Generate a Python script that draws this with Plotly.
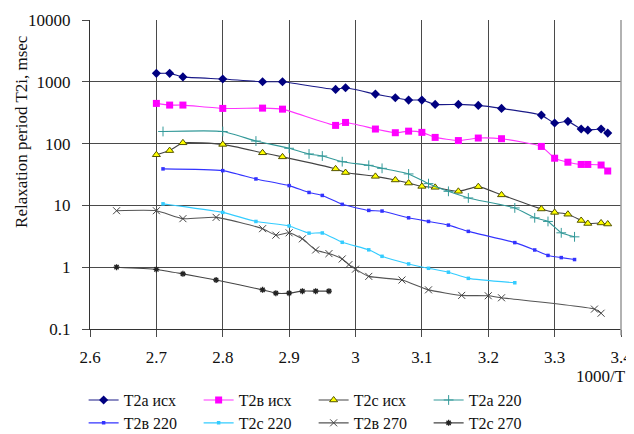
import plotly.graph_objects as go

# ---- data ----
x_isx = [2.70, 2.72, 2.74, 2.80, 2.86, 2.89, 2.97, 2.985, 3.03, 3.06, 3.08, 3.10,
         3.12, 3.155, 3.185, 3.22, 3.28, 3.30, 3.32, 3.34, 3.35, 3.37, 3.38]
t2a_isx = [1370, 1370, 1200, 1110, 1000, 1000, 754, 800, 632, 551, 506, 506,
           431, 431, 415, 371, 289, 215, 229, 172, 165, 172, 148]
t2b_isx = [447, 420, 420, 371, 375, 361, 197, 220, 172, 150, 159, 152,
           126, 112, 123, 120, 90, 58, 50, 46, 46, 45, 36]
t2c_isx = [66, 77, 103, 97, 71, 61, 39, 34, 29.5, 25.8, 23, 20.3,
           19.6, 16.9, 20.1, 14.8, 8.75, 7.7, 7.2, 5.7, 5.1, 5.2, 5.0]

x_220 = [2.71, 2.80, 2.85, 2.90, 2.93, 2.95, 2.98, 3.02, 3.04, 3.08, 3.11, 3.14,
         3.17, 3.24, 3.27, 3.29, 3.31, 3.33]
t2a_220 = [157, 157, 110, 84, 68, 63, 51, 44.5, 39.8, 32.3, 22.5, 16.9,
           13.2, 9.1, 6.3, 5.5, 3.6, 3.1]
t2b_220 = [39, 36.5, 26.8, 20.9, 16.2, 14.5, 10.4, 8.3, 8.1, 6.3, 5.5, 4.8,
           3.8, 2.5, 1.9, 1.55, 1.43, 1.33]
x_c220 = [2.71, 2.80, 2.85, 2.90, 2.93, 2.95, 2.98, 3.02, 3.04, 3.08, 3.11, 3.14,
          3.17, 3.24]
t2c_220 = [10.6, 7.7, 5.5, 4.65, 3.56, 3.58, 2.53, 1.91, 1.5, 1.13, 0.96, 0.83,
           0.66, 0.56]

x_b270 = [2.64, 2.70, 2.74, 2.79, 2.86, 2.88, 2.90, 2.92, 2.94, 2.96, 2.98, 2.99,
          3.00, 3.02, 3.07, 3.11, 3.16, 3.20, 3.22, 3.36, 3.37]
t2b_270 = [8.2, 8.2, 6.1, 6.4, 4.2, 3.3, 3.6, 2.88, 1.9, 1.66, 1.36, 1.1,
           0.93, 0.71, 0.62, 0.43, 0.35, 0.345, 0.32, 0.21, 0.18]
x_c270 = [2.64, 2.70, 2.74, 2.79, 2.86, 2.88, 2.90, 2.92, 2.94, 2.96]
t2c_270 = [1.0, 0.92, 0.78, 0.62, 0.43, 0.38, 0.38, 0.41, 0.41, 0.41]

x_ticks = [2.6, 2.7, 2.8, 2.9, 3.0, 3.1, 3.2, 3.3, 3.4]
x_tick_text = ["2.6", "2.7", "2.8", "2.9", "3", "3.1", "3.2", "3.3", "3.4"]
y_ticks = [0.1, 1, 10, 100, 1000, 10000]
y_tick_text = ["0.1", "1", "10", "100", "1000", "10000"]

series = [
    ("T2a исх", x_isx, t2a_isx, "#1a1a88", dict(symbol="diamond", size=7, color="#000080"), "legend"),
    ("T2в исх", x_isx, t2b_isx, "#FF33FF", dict(symbol="square", size=7, color="#FF00FF"), "legend"),
    ("T2c исх", x_isx, t2c_isx, "#444444", dict(symbol="triangle-up", size=7, color="#FFFF00",
                                                line=dict(color="#555500", width=1)), "legend"),
    ("T2a 220", x_220, t2a_220, "#339999", dict(symbol="cross-thin", size=7, color="#339999",
                                                line=dict(color="#339999", width=1)), "legend"),
    ("T2в 220", x_220, t2b_220, "#3333FF", dict(symbol="square", size=3.5, color="#3333FF"), "legend2"),
    ("T2c 220", x_c220, t2c_220, "#33CCFF", dict(symbol="square", size=3.5, color="#33CCFF"), "legend2"),
    ("T2в 270", x_b270, t2b_270, "#555555", dict(symbol="x-thin", size=7, color="#444444",
                                                 line=dict(color="#444444", width=1)), "legend2"),
    ("T2c 270", x_c270, t2c_270, "#444444", dict(symbol="asterisk", size=5, color="#222222",
                                                 line=dict(color="#222222", width=1.3)), "legend2"),
]

font_family = "Liberation Serif"
tick_font = dict(family=font_family, size=17, color="#111111")

fig = go.Figure()
for name, xs, ys, col, mk, lg in series:
    fig.add_trace(go.Scatter(
        x=xs, y=ys, name=name, mode="lines+markers", legend=lg,
        line=dict(color=col, width=1.1, shape="spline", smoothing=0.5),
        marker=mk,
    ))

legend_common = dict(
    orientation="h", x=-0.012, xanchor="left", yanchor="top",
    entrywidth=70, entrywidthmode="pixels",
    font=dict(family=font_family, size=16, color="#111111"),
    tracegroupgap=0, itemwidth=30, bgcolor="rgba(0,0,0,0)",
)

# the page body adds an 8px offset, so the figure is 8px smaller and margins shifted
fig.update_layout(
    width=626, height=426,
    margin=dict(l=82, r=13, t=12, b=105, autoexpand=False),
    paper_bgcolor="white", plot_bgcolor="white",
    font=dict(family=font_family, size=17, color="#111111"),
    showlegend=True,
    legend=dict(legend_common, y=-0.175),
    legend2=dict(legend_common, y=-0.249),
    annotations=[
        dict(text="1000/T", xref="paper", yref="paper", x=1.013, y=-0.155,
             xanchor="right", yanchor="middle", showarrow=False,
             font=dict(family=font_family, size=17)),
        dict(text="Relaxation period T2i, msec", xref="paper", yref="paper",
             x=-0.128, y=0.638, xanchor="center", yanchor="middle",
             textangle=-90, showarrow=False,
             font=dict(family=font_family, size=17)),
    ],
)

fig.update_xaxes(
    range=[2.6, 3.4], tickvals=x_ticks, ticktext=x_tick_text, tickfont=tick_font,
    showgrid=True, gridcolor="#4a4a4a", gridwidth=1.1,
    ticks="outside", ticklen=7, tickcolor="#4a4a4a", tickwidth=1.1,
    showline=True, linecolor="#333333", linewidth=1.2, mirror=False,
    ticklabelstandoff=5, zeroline=False, automargin=False,
)
fig.update_yaxes(
    type="log", range=[-1, 4], tickvals=y_ticks, ticktext=y_tick_text, tickfont=tick_font,
    showgrid=True, gridcolor="#4a4a4a", gridwidth=1.1,
    ticks="outside", ticklen=7, tickcolor="#4a4a4a", tickwidth=1.1,
    showline=True, linecolor="#333333", linewidth=1.2,
    ticklabelstandoff=8, zeroline=False, automargin=False,
)

# right border of the plot area
fig.add_shape(type="line", xref="paper", yref="paper", x0=1, x1=1, y0=-0.02, y1=1,
              line=dict(color="#999999", width=1.5))

fig.write_html("out.html")
